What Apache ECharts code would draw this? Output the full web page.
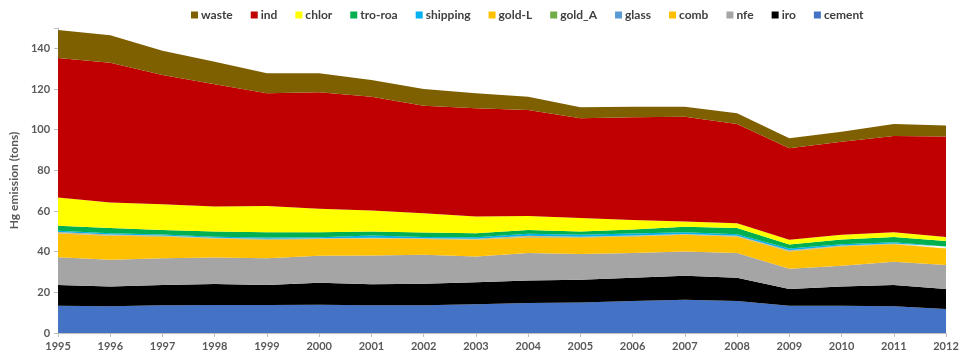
<!DOCTYPE html>
<html>
<head>
<meta charset="utf-8">
<script src="https://cdn.jsdelivr.net/npm/echarts@6/dist/echarts.min.js"></script>
<style>
  html, body { margin: 0; padding: 0; background: #fff; }
  #chart { width: 969px; height: 362px; }
</style>
</head>
<body>
<div id="chart"></div>
<script>
var years = ['1995','1996','1997','1998','1999','2000','2001','2002','2003','2004','2005','2006','2007','2008','2009','2010','2011','2012'];

// bottom to top of the stack
var cement   = [13.4,13.1,13.6,13.8,13.8,13.9,13.7,13.7,14.1,14.7,15.0,15.7,16.4,15.7,13.4,13.4,13.1,11.8];
var iro      = [10.2,9.8,10.0,10.3,9.8,10.8,10.3,10.5,10.8,11.1,11.2,11.5,11.7,11.5,8.2,9.5,10.5,9.8];
var nfe      = [13.7,13.1,13.2,13.0,13.2,13.3,14.1,14.3,12.7,13.5,12.7,12.2,12.0,12.1,10.0,10.2,11.4,11.9];
var comb     = [11.6,11.8,10.7,9.2,9.2,8.2,8.2,7.7,8.2,7.7,8.1,8.1,8.2,8.0,8.5,9.4,8.6,8.0];
var glass    = [0.1,0.1,0.1,0.1,0.1,0.1,0.1,0.1,0.1,0.1,0.1,0.1,0.1,0.1,0.1,0.1,0.1,0.1];
var goldA    = [0.1,0.1,0.1,0.1,0.1,0.1,0.1,0.1,0.1,0.1,0.1,0.1,0.1,0.1,0.1,0.1,0.1,0.1];
var goldL    = [0.6,0.4,0.3,0.3,0.2,0.2,0.4,0.2,0.3,0.6,0.1,0.2,0.2,0.3,0.4,0.3,0.2,0.3];
var shipping = [0.6,0.7,0.4,0.5,0.6,0.5,1.0,0.6,0.8,1.0,1.0,1.0,0.8,0.8,0.9,0.7,0.6,0.6];
var troRoa   = [2.4,2.5,2.3,2.6,2.6,2.5,2.0,2.2,2.0,1.9,1.6,2.0,2.7,3.0,1.9,2.3,2.6,2.7];
var chlor    = [13.9,12.6,12.6,12.3,12.8,11.5,10.3,9.5,8.2,6.9,6.6,4.7,2.6,2.4,2.3,2.3,2.4,1.9];
var ind      = [68.6,68.7,63.6,60.1,55.5,57.3,56.0,52.9,53.2,52.1,49.1,50.5,51.6,48.8,45.1,45.7,47.3,49.4];
var waste    = [13.8,13.5,11.9,11.1,9.8,9.3,8.2,8.2,7.4,6.5,5.4,5.2,4.9,5.3,4.9,5.0,5.9,5.4];

var layers = [
  {name: 'cement',   data: cement,   color: '#4472C4'},
  {name: 'iro',      data: iro,      color: '#000000'},
  {name: 'nfe',      data: nfe,      color: '#A5A5A5'},
  {name: 'comb',     data: comb,     color: '#FFC000'},
  {name: 'glass',    data: glass,    color: '#5B9BD5'},
  {name: 'gold_A',   data: goldA,    color: '#70AD47'},
  {name: 'gold-L',   data: goldL,    color: '#D9B36B'},
  {name: 'shipping', data: shipping, color: '#00B0F0'},
  {name: 'tro-roa',  data: troRoa,   color: '#00B050'},
  {name: 'chlor',    data: chlor,    color: '#FFFF00'},
  {name: 'ind',      data: ind,      color: '#C00000'},
  {name: 'waste',    data: waste,    color: '#7F6000'}
];

var legendColors = {'gold-L': '#FFC000'};

var chart = echarts.init(document.getElementById('chart'));
var font = 'Lato, "Open Sans", sans-serif';

var option = {
  animation: false,
  textStyle: {fontFamily: font},
  legend: {
    top: 4,
    left: 186,
    itemWidth: 7,
    itemHeight: 7,
    itemGap: 18,
    icon: 'rect',
    textStyle: {fontFamily: font, fontWeight: 'bold', fontSize: 12, color: '#404040', padding: [0, 0, 0, -2]},
    data: layers.slice().reverse().map(function (l) {
      return {name: l.name, itemStyle: {color: legendColors[l.name] || l.color}};
    })
  },
  grid: {left: 54, right: 23, top: 28, bottom: 29},
  xAxis: {
    type: 'category',
    data: years,
    boundaryGap: false,
    axisLine: {lineStyle: {color: '#BFBFBF'}},
    axisTick: {show: true, alignWithLabel: true, length: 4, lineStyle: {color: '#BFBFBF'}},
    axisLabel: {fontFamily: font, fontWeight: 'bold', fontSize: 11, color: '#595959', margin: 8, interval: 0}
  },
  yAxis: {
    type: 'value',
    min: 0,
    max: 150,
    interval: 20,
    name: 'Hg emission (tons)',
    nameLocation: 'middle',
    nameGap: 34,
    nameTextStyle: {fontFamily: font, fontWeight: 'bold', fontSize: 12, color: '#595959'},
    axisLine: {show: true, lineStyle: {color: '#BFBFBF'}},
    axisTick: {show: true, length: 4, lineStyle: {color: '#BFBFBF'}},
    axisLabel: {fontFamily: font, fontWeight: 'bold', fontSize: 11, color: '#595959', margin: 8,
      formatter: function (v) { return v > 140 ? '' : v; }},
    splitLine: {show: false}
  },
  series: layers.map(function (l) {
    return {
      name: l.name,
      type: 'line',
      stack: 'total',
      data: l.data,
      showSymbol: false,
      symbol: 'none',
      lineStyle: {width: 0},
      itemStyle: {color: l.color},
      areaStyle: {color: l.color, opacity: 1}
    };
  })
};

chart.setOption(option);
</script>
</body>
</html>
